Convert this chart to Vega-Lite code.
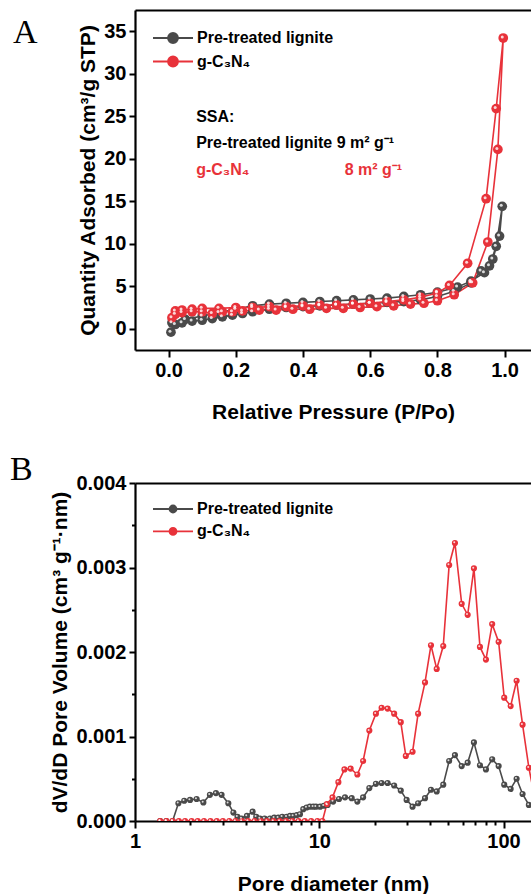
{
  "$schema": "https://vega.github.io/schema/vega-lite/v6.json",
  "background": "white",
  "padding": {"left": 10, "top": 10, "right": 0, "bottom": 0},
  "spacing": 31,
  "config": {
    "view": {"stroke": null},
    "font": "Liberation Sans",
    "axis": {
      "domainColor": "black", "domainWidth": 2.2, "tickColor": "black", "tickWidth": 2, "tickSize": 7,
      "labelFont": "Liberation Sans", "labelFontWeight": "bold", "labelFontSize": 20, "labelColor": "black",
      "titleFont": "Liberation Sans", "titleFontWeight": "bold", "titleFontSize": 21, "titleColor": "black",
      "grid": false, "labelPadding": 3, "labelFlush": false, "labelOverlap": false, "labelBound": false
    },
    "title": {"font": "Liberation Serif", "fontWeight": "normal", "fontSize": 34, "anchor": "start", "frame": "group", "color": "black", "offset": 0, "baseline": "alphabetic"},
    "legend": {
      "title": null, "orient": "none", "padding": 0,
      "labelFont": "Liberation Sans", "labelFontWeight": "bold", "labelFontSize": 16, "labelColor": "black",
      "symbolSize": 400, "symbolStrokeWidth": 1.8, "symbolOpacity": 1
    }
  },
  "datasets": {
    "iso": [
      {"sample": "Pre-treated lignite", "seq": 1, "p": 0.007, "q": -0.4},
      {"sample": "Pre-treated lignite", "seq": 2, "p": 0.02, "q": 0.5},
      {"sample": "Pre-treated lignite", "seq": 3, "p": 0.04, "q": 0.7},
      {"sample": "Pre-treated lignite", "seq": 4, "p": 0.07, "q": 0.9},
      {"sample": "Pre-treated lignite", "seq": 5, "p": 0.1, "q": 1.0},
      {"sample": "Pre-treated lignite", "seq": 6, "p": 0.13, "q": 1.2},
      {"sample": "Pre-treated lignite", "seq": 7, "p": 0.16, "q": 1.4},
      {"sample": "Pre-treated lignite", "seq": 8, "p": 0.19, "q": 1.6},
      {"sample": "Pre-treated lignite", "seq": 9, "p": 0.22, "q": 1.8},
      {"sample": "Pre-treated lignite", "seq": 10, "p": 0.25, "q": 2.0},
      {"sample": "Pre-treated lignite", "seq": 11, "p": 0.3, "q": 2.3},
      {"sample": "Pre-treated lignite", "seq": 12, "p": 0.35, "q": 2.5},
      {"sample": "Pre-treated lignite", "seq": 13, "p": 0.4, "q": 2.6},
      {"sample": "Pre-treated lignite", "seq": 14, "p": 0.45, "q": 2.7},
      {"sample": "Pre-treated lignite", "seq": 15, "p": 0.5, "q": 2.8},
      {"sample": "Pre-treated lignite", "seq": 16, "p": 0.55, "q": 2.9},
      {"sample": "Pre-treated lignite", "seq": 17, "p": 0.6, "q": 3.0},
      {"sample": "Pre-treated lignite", "seq": 18, "p": 0.65, "q": 3.1},
      {"sample": "Pre-treated lignite", "seq": 19, "p": 0.7, "q": 3.2},
      {"sample": "Pre-treated lignite", "seq": 20, "p": 0.75, "q": 3.4},
      {"sample": "Pre-treated lignite", "seq": 21, "p": 0.8, "q": 3.8},
      {"sample": "Pre-treated lignite", "seq": 22, "p": 0.85, "q": 4.4},
      {"sample": "Pre-treated lignite", "seq": 23, "p": 0.9, "q": 5.4},
      {"sample": "Pre-treated lignite", "seq": 24, "p": 0.93, "q": 6.8},
      {"sample": "Pre-treated lignite", "seq": 25, "p": 0.955, "q": 7.4},
      {"sample": "Pre-treated lignite", "seq": 26, "p": 0.975, "q": 9.7},
      {"sample": "Pre-treated lignite", "seq": 27, "p": 0.993, "q": 14.4},
      {"sample": "Pre-treated lignite", "seq": 28, "p": 0.985, "q": 10.9},
      {"sample": "Pre-treated lignite", "seq": 29, "p": 0.965, "q": 8.2},
      {"sample": "Pre-treated lignite", "seq": 30, "p": 0.94, "q": 6.6},
      {"sample": "Pre-treated lignite", "seq": 31, "p": 0.9, "q": 5.6},
      {"sample": "Pre-treated lignite", "seq": 32, "p": 0.86, "q": 4.9},
      {"sample": "Pre-treated lignite", "seq": 33, "p": 0.8, "q": 4.3},
      {"sample": "Pre-treated lignite", "seq": 34, "p": 0.75, "q": 4.0},
      {"sample": "Pre-treated lignite", "seq": 35, "p": 0.7, "q": 3.8},
      {"sample": "Pre-treated lignite", "seq": 36, "p": 0.65, "q": 3.6},
      {"sample": "Pre-treated lignite", "seq": 37, "p": 0.6, "q": 3.5},
      {"sample": "Pre-treated lignite", "seq": 38, "p": 0.55, "q": 3.4},
      {"sample": "Pre-treated lignite", "seq": 39, "p": 0.5, "q": 3.3},
      {"sample": "Pre-treated lignite", "seq": 40, "p": 0.45, "q": 3.2},
      {"sample": "Pre-treated lignite", "seq": 41, "p": 0.4, "q": 3.1},
      {"sample": "Pre-treated lignite", "seq": 42, "p": 0.35, "q": 3.0},
      {"sample": "Pre-treated lignite", "seq": 43, "p": 0.3, "q": 2.9},
      {"sample": "Pre-treated lignite", "seq": 44, "p": 0.25, "q": 2.7},
      {"sample": "Pre-treated lignite", "seq": 45, "p": 0.2, "q": 2.3},
      {"sample": "Pre-treated lignite", "seq": 46, "p": 0.15, "q": 1.9},
      {"sample": "Pre-treated lignite", "seq": 47, "p": 0.1, "q": 1.5},
      {"sample": "Pre-treated lignite", "seq": 48, "p": 0.05, "q": 1.1},
      {"sample": "Pre-treated lignite", "seq": 49, "p": 0.01, "q": 0.7},
      {"sample": "g-C₃N₄", "seq": 1, "p": 0.01, "q": 1.3},
      {"sample": "g-C₃N₄", "seq": 2, "p": 0.02, "q": 1.7},
      {"sample": "g-C₃N₄", "seq": 3, "p": 0.04, "q": 1.9},
      {"sample": "g-C₃N₄", "seq": 4, "p": 0.07, "q": 2.0},
      {"sample": "g-C₃N₄", "seq": 5, "p": 0.1, "q": 2.0},
      {"sample": "g-C₃N₄", "seq": 6, "p": 0.13, "q": 1.8},
      {"sample": "g-C₃N₄", "seq": 7, "p": 0.16, "q": 2.0},
      {"sample": "g-C₃N₄", "seq": 8, "p": 0.19, "q": 2.0},
      {"sample": "g-C₃N₄", "seq": 9, "p": 0.22, "q": 2.1},
      {"sample": "g-C₃N₄", "seq": 10, "p": 0.27, "q": 2.2},
      {"sample": "g-C₃N₄", "seq": 11, "p": 0.32, "q": 2.2},
      {"sample": "g-C₃N₄", "seq": 12, "p": 0.37, "q": 2.3},
      {"sample": "g-C₃N₄", "seq": 13, "p": 0.42, "q": 2.3},
      {"sample": "g-C₃N₄", "seq": 14, "p": 0.47, "q": 2.4},
      {"sample": "g-C₃N₄", "seq": 15, "p": 0.52, "q": 2.4},
      {"sample": "g-C₃N₄", "seq": 16, "p": 0.57, "q": 2.5},
      {"sample": "g-C₃N₄", "seq": 17, "p": 0.62, "q": 2.6},
      {"sample": "g-C₃N₄", "seq": 18, "p": 0.67, "q": 2.7},
      {"sample": "g-C₃N₄", "seq": 19, "p": 0.72, "q": 2.9},
      {"sample": "g-C₃N₄", "seq": 20, "p": 0.76, "q": 3.0},
      {"sample": "g-C₃N₄", "seq": 21, "p": 0.8, "q": 3.3},
      {"sample": "g-C₃N₄", "seq": 22, "p": 0.85, "q": 4.0},
      {"sample": "g-C₃N₄", "seq": 23, "p": 0.905, "q": 5.4},
      {"sample": "g-C₃N₄", "seq": 24, "p": 0.95, "q": 10.2},
      {"sample": "g-C₃N₄", "seq": 25, "p": 0.98, "q": 21.1},
      {"sample": "g-C₃N₄", "seq": 26, "p": 0.996, "q": 34.2},
      {"sample": "g-C₃N₄", "seq": 27, "p": 0.975, "q": 25.9},
      {"sample": "g-C₃N₄", "seq": 28, "p": 0.945, "q": 15.3},
      {"sample": "g-C₃N₄", "seq": 29, "p": 0.89, "q": 7.7},
      {"sample": "g-C₃N₄", "seq": 30, "p": 0.836, "q": 5.1},
      {"sample": "g-C₃N₄", "seq": 31, "p": 0.8, "q": 4.2},
      {"sample": "g-C₃N₄", "seq": 32, "p": 0.75, "q": 3.7},
      {"sample": "g-C₃N₄", "seq": 33, "p": 0.7, "q": 3.4},
      {"sample": "g-C₃N₄", "seq": 34, "p": 0.65, "q": 3.2},
      {"sample": "g-C₃N₄", "seq": 35, "p": 0.6, "q": 3.0},
      {"sample": "g-C₃N₄", "seq": 36, "p": 0.55, "q": 2.9},
      {"sample": "g-C₃N₄", "seq": 37, "p": 0.5, "q": 2.8},
      {"sample": "g-C₃N₄", "seq": 38, "p": 0.45, "q": 2.8},
      {"sample": "g-C₃N₄", "seq": 39, "p": 0.4, "q": 2.7},
      {"sample": "g-C₃N₄", "seq": 40, "p": 0.35, "q": 2.6},
      {"sample": "g-C₃N₄", "seq": 41, "p": 0.3, "q": 2.6},
      {"sample": "g-C₃N₄", "seq": 42, "p": 0.25, "q": 2.5},
      {"sample": "g-C₃N₄", "seq": 43, "p": 0.2, "q": 2.5},
      {"sample": "g-C₃N₄", "seq": 44, "p": 0.15, "q": 2.4},
      {"sample": "g-C₃N₄", "seq": 45, "p": 0.1, "q": 2.4},
      {"sample": "g-C₃N₄", "seq": 46, "p": 0.07, "q": 2.3},
      {"sample": "g-C₃N₄", "seq": 47, "p": 0.04, "q": 2.2},
      {"sample": "g-C₃N₄", "seq": 48, "p": 0.02, "q": 2.1}
    ],
    "pore": [
      {"sample": "Pre-treated lignite", "d": 1.37, "v": 0},
      {"sample": "Pre-treated lignite", "d": 1.48, "v": 0},
      {"sample": "Pre-treated lignite", "d": 1.6, "v": 0},
      {"sample": "Pre-treated lignite", "d": 1.72, "v": 0.00021},
      {"sample": "Pre-treated lignite", "d": 1.85, "v": 0.00024},
      {"sample": "Pre-treated lignite", "d": 1.99, "v": 0.00025},
      {"sample": "Pre-treated lignite", "d": 2.16, "v": 0.00026},
      {"sample": "Pre-treated lignite", "d": 2.35, "v": 0.00022},
      {"sample": "Pre-treated lignite", "d": 2.55, "v": 0.00031},
      {"sample": "Pre-treated lignite", "d": 2.75, "v": 0.00033},
      {"sample": "Pre-treated lignite", "d": 2.95, "v": 0.00031},
      {"sample": "Pre-treated lignite", "d": 3.21, "v": 0.00021},
      {"sample": "Pre-treated lignite", "d": 3.42, "v": 0.0001},
      {"sample": "Pre-treated lignite", "d": 3.6, "v": 0.00005},
      {"sample": "Pre-treated lignite", "d": 3.79, "v": 0.00003},
      {"sample": "Pre-treated lignite", "d": 4.05, "v": 0.00006},
      {"sample": "Pre-treated lignite", "d": 4.35, "v": 0.00011},
      {"sample": "Pre-treated lignite", "d": 4.55, "v": 0.00005},
      {"sample": "Pre-treated lignite", "d": 4.77, "v": 0.00003},
      {"sample": "Pre-treated lignite", "d": 5.05, "v": 0.00003},
      {"sample": "Pre-treated lignite", "d": 5.4, "v": 0.00003},
      {"sample": "Pre-treated lignite", "d": 5.7, "v": 0.00004},
      {"sample": "Pre-treated lignite", "d": 5.99, "v": 0.00004},
      {"sample": "Pre-treated lignite", "d": 6.3, "v": 0.00005},
      {"sample": "Pre-treated lignite", "d": 6.66, "v": 0.00005},
      {"sample": "Pre-treated lignite", "d": 6.95, "v": 0.00006},
      {"sample": "Pre-treated lignite", "d": 7.23, "v": 0.00006},
      {"sample": "Pre-treated lignite", "d": 7.55, "v": 0.00007},
      {"sample": "Pre-treated lignite", "d": 7.86, "v": 0.00008},
      {"sample": "Pre-treated lignite", "d": 8.19, "v": 0.00014},
      {"sample": "Pre-treated lignite", "d": 8.54, "v": 0.00016},
      {"sample": "Pre-treated lignite", "d": 8.9, "v": 0.00017},
      {"sample": "Pre-treated lignite", "d": 9.28, "v": 0.00017},
      {"sample": "Pre-treated lignite", "d": 9.6, "v": 0.00017},
      {"sample": "Pre-treated lignite", "d": 10.1, "v": 0.00017},
      {"sample": "Pre-treated lignite", "d": 10.6, "v": 0.00018},
      {"sample": "Pre-treated lignite", "d": 11.1, "v": 0.00019},
      {"sample": "Pre-treated lignite", "d": 11.9, "v": 0.00023},
      {"sample": "Pre-treated lignite", "d": 12.8, "v": 0.00026},
      {"sample": "Pre-treated lignite", "d": 13.8, "v": 0.00028},
      {"sample": "Pre-treated lignite", "d": 15.0, "v": 0.00027},
      {"sample": "Pre-treated lignite", "d": 16.1, "v": 0.00023},
      {"sample": "Pre-treated lignite", "d": 17.3, "v": 0.00028},
      {"sample": "Pre-treated lignite", "d": 18.7, "v": 0.00039},
      {"sample": "Pre-treated lignite", "d": 20.3, "v": 0.00044},
      {"sample": "Pre-treated lignite", "d": 21.8, "v": 0.00045},
      {"sample": "Pre-treated lignite", "d": 23.5, "v": 0.00045},
      {"sample": "Pre-treated lignite", "d": 25.5, "v": 0.00042},
      {"sample": "Pre-treated lignite", "d": 27.7, "v": 0.00036},
      {"sample": "Pre-treated lignite", "d": 29.8, "v": 0.00025},
      {"sample": "Pre-treated lignite", "d": 32.1, "v": 0.00017},
      {"sample": "Pre-treated lignite", "d": 34.4, "v": 0.00021},
      {"sample": "Pre-treated lignite", "d": 37.5, "v": 0.00027},
      {"sample": "Pre-treated lignite", "d": 40.4, "v": 0.00037},
      {"sample": "Pre-treated lignite", "d": 43.4, "v": 0.00035},
      {"sample": "Pre-treated lignite", "d": 47.1, "v": 0.00043},
      {"sample": "Pre-treated lignite", "d": 50.7, "v": 0.00071},
      {"sample": "Pre-treated lignite", "d": 54.5, "v": 0.00078},
      {"sample": "Pre-treated lignite", "d": 59.3, "v": 0.00065},
      {"sample": "Pre-treated lignite", "d": 63.9, "v": 0.00069},
      {"sample": "Pre-treated lignite", "d": 69.1, "v": 0.00093},
      {"sample": "Pre-treated lignite", "d": 74.5, "v": 0.00066},
      {"sample": "Pre-treated lignite", "d": 80.3, "v": 0.00061},
      {"sample": "Pre-treated lignite", "d": 86.8, "v": 0.00073},
      {"sample": "Pre-treated lignite", "d": 94.1, "v": 0.00065},
      {"sample": "Pre-treated lignite", "d": 100.9, "v": 0.00043},
      {"sample": "Pre-treated lignite", "d": 109.3, "v": 0.00038},
      {"sample": "Pre-treated lignite", "d": 117.8, "v": 0.0005},
      {"sample": "Pre-treated lignite", "d": 126.9, "v": 0.00032},
      {"sample": "Pre-treated lignite", "d": 137.3, "v": 0.00019},
      {"sample": "Pre-treated lignite", "d": 147, "v": 0.00015},
      {"sample": "g-C₃N₄", "d": 1.37, "v": 0},
      {"sample": "g-C₃N₄", "d": 1.48, "v": 0},
      {"sample": "g-C₃N₄", "d": 1.6, "v": 0},
      {"sample": "g-C₃N₄", "d": 1.73, "v": 0},
      {"sample": "g-C₃N₄", "d": 1.87, "v": 0},
      {"sample": "g-C₃N₄", "d": 2.03, "v": 0},
      {"sample": "g-C₃N₄", "d": 2.19, "v": 0},
      {"sample": "g-C₃N₄", "d": 2.37, "v": 0},
      {"sample": "g-C₃N₄", "d": 2.57, "v": 0},
      {"sample": "g-C₃N₄", "d": 2.78, "v": 0},
      {"sample": "g-C₃N₄", "d": 3.0, "v": 0},
      {"sample": "g-C₃N₄", "d": 3.25, "v": 0},
      {"sample": "g-C₃N₄", "d": 3.51, "v": 0},
      {"sample": "g-C₃N₄", "d": 3.8, "v": 0},
      {"sample": "g-C₃N₄", "d": 4.11, "v": 0},
      {"sample": "g-C₃N₄", "d": 4.45, "v": 0},
      {"sample": "g-C₃N₄", "d": 4.82, "v": 0},
      {"sample": "g-C₃N₄", "d": 5.21, "v": 0},
      {"sample": "g-C₃N₄", "d": 5.64, "v": 0},
      {"sample": "g-C₃N₄", "d": 6.1, "v": 0},
      {"sample": "g-C₃N₄", "d": 6.6, "v": 0},
      {"sample": "g-C₃N₄", "d": 7.14, "v": 0},
      {"sample": "g-C₃N₄", "d": 7.72, "v": 0},
      {"sample": "g-C₃N₄", "d": 8.35, "v": 0},
      {"sample": "g-C₃N₄", "d": 9.04, "v": 0},
      {"sample": "g-C₃N₄", "d": 9.78, "v": 0},
      {"sample": "g-C₃N₄", "d": 10.4, "v": 0},
      {"sample": "g-C₃N₄", "d": 11.0, "v": 0.0002},
      {"sample": "g-C₃N₄", "d": 11.8, "v": 0.00028},
      {"sample": "g-C₃N₄", "d": 12.7, "v": 0.00046},
      {"sample": "g-C₃N₄", "d": 13.7, "v": 0.00061},
      {"sample": "g-C₃N₄", "d": 14.8, "v": 0.00062},
      {"sample": "g-C₃N₄", "d": 16.1, "v": 0.00055},
      {"sample": "g-C₃N₄", "d": 17.3, "v": 0.00071},
      {"sample": "g-C₃N₄", "d": 18.7, "v": 0.00107},
      {"sample": "g-C₃N₄", "d": 20.3, "v": 0.00127},
      {"sample": "g-C₃N₄", "d": 21.8, "v": 0.00134},
      {"sample": "g-C₃N₄", "d": 23.5, "v": 0.00133},
      {"sample": "g-C₃N₄", "d": 25.5, "v": 0.00127},
      {"sample": "g-C₃N₄", "d": 27.7, "v": 0.00117},
      {"sample": "g-C₃N₄", "d": 29.5, "v": 0.00077},
      {"sample": "g-C₃N₄", "d": 32.1, "v": 0.00082},
      {"sample": "g-C₃N₄", "d": 34.4, "v": 0.00127},
      {"sample": "g-C₃N₄", "d": 37.5, "v": 0.00164},
      {"sample": "g-C₃N₄", "d": 40.4, "v": 0.00208},
      {"sample": "g-C₃N₄", "d": 43.4, "v": 0.0018},
      {"sample": "g-C₃N₄", "d": 47.1, "v": 0.00207},
      {"sample": "g-C₃N₄", "d": 50.7, "v": 0.00303},
      {"sample": "g-C₃N₄", "d": 54.5, "v": 0.00329},
      {"sample": "g-C₃N₄", "d": 59.3, "v": 0.00257},
      {"sample": "g-C₃N₄", "d": 63.9, "v": 0.00244},
      {"sample": "g-C₃N₄", "d": 69.1, "v": 0.00299},
      {"sample": "g-C₃N₄", "d": 74.5, "v": 0.00206},
      {"sample": "g-C₃N₄", "d": 80.3, "v": 0.00191},
      {"sample": "g-C₃N₄", "d": 86.8, "v": 0.00233},
      {"sample": "g-C₃N₄", "d": 94.1, "v": 0.00212},
      {"sample": "g-C₃N₄", "d": 100.9, "v": 0.00146},
      {"sample": "g-C₃N₄", "d": 109.3, "v": 0.00136},
      {"sample": "g-C₃N₄", "d": 117.8, "v": 0.00166},
      {"sample": "g-C₃N₄", "d": 126.9, "v": 0.00114},
      {"sample": "g-C₃N₄", "d": 137.3, "v": 0.00063},
      {"sample": "g-C₃N₄", "d": 147, "v": 0.0003}
    ]
  },
  "resolve": {"scale": {"color": "independent"}, "legend": {"color": "independent"}},
  "vconcat": [
    {
      "width": 396, "height": 340,
      "title": {"text": "A", "dx": -122, "dy": 44},
      "resolve": {"axis": {"x": "independent", "y": "independent"}},
      "layer": [
        {
          "data": {"name": "iso"},
          "mark": {"type": "line", "strokeWidth": 1.6, "clip": true},
          "encoding": {
            "x": {"field": "p", "type": "quantitative", "scale": {"domain": [-0.1, 1.0786], "nice": false, "zero": false},
                  "axis": {"values": [0, 0.2, 0.4, 0.6, 0.8, 1.0], "format": ".1f", "title": "Relative Pressure (P/Po)", "titlePadding": 21}},
            "y": {"field": "q", "type": "quantitative", "scale": {"domain": [-2.5, 37.5], "nice": false, "zero": false},
                  "axis": {"orient": "left", "values": [0, 5, 10, 15, 20, 25, 30, 35], "format": "d", "title": "Quantity Adsorbed (cm³/g STP)", "tickSize": 6, "titlePadding": 5}},
            "color": {"field": "sample", "type": "nominal",
                      "scale": {"domain": ["Pre-treated lignite", "g-C₃N₄"], "range": ["#4a4a4a", "#e8323a"]},
                      "legend": {"legendX": 27, "legendY": 17, "rowPadding": 3.5, "labelOffset": 13,
                                 "symbolType": "M-2,0L-0.5,0M0.5,0L2,0M-0.5,0A0.5,0.5,0,1,1,0.5,0A0.5,0.5,0,1,1,-0.5,0Z"}},
            "order": {"field": "seq", "type": "quantitative"}
          }
        },
        {
          "data": {"name": "iso"},
          "mark": {"type": "point", "filled": true, "size": 95, "opacity": 1, "clip": true},
          "encoding": {
            "x": {"field": "p", "type": "quantitative", "scale": {"domain": [-0.1, 1.0786], "nice": false, "zero": false}, "axis": null},
            "y": {"field": "q", "type": "quantitative", "scale": {"domain": [-2.5, 37.5], "nice": false, "zero": false}, "axis": null},
            "color": {"field": "sample", "type": "nominal",
                      "scale": {"domain": ["Pre-treated lignite", "g-C₃N₄"], "range": ["#4a4a4a", "#e8323a"]},
                      "legend": {"legendX": 27, "legendY": 17, "rowPadding": 3.5, "labelOffset": 13,
                                 "symbolType": "M-2,0L-0.5,0M0.5,0L2,0M-0.5,0A0.5,0.5,0,1,1,0.5,0A0.5,0.5,0,1,1,-0.5,0Z"}}
          }
        },
        {
          "data": {"name": "iso"},
          "mark": {"type": "point", "filled": true, "size": 9, "opacity": 0.8, "color": "white", "xOffset": -1, "yOffset": -1, "clip": true},
          "encoding": {
            "x": {"field": "p", "type": "quantitative", "scale": {"domain": [-0.1, 1.0786], "nice": false, "zero": false}, "axis": null},
            "y": {"field": "q", "type": "quantitative", "scale": {"domain": [-2.5, 37.5], "nice": false, "zero": false}, "axis": null}
          }
        },
        {
          "data": {"values": [{"t": "SSA:"}]},
          "mark": {"type": "text", "align": "left", "baseline": "middle", "font": "Liberation Sans", "fontWeight": "bold", "fontSize": 16, "color": "black"},
          "encoding": {
            "x": {"datum": 0.082, "type": "quantitative", "axis": null},
            "y": {"datum": 24.9, "type": "quantitative", "axis": null},
            "text": {"field": "t"}
          }
        },
        {
          "data": {"values": [{"t": "Pre-treated lignite 9 m² g⁻¹"}]},
          "mark": {"type": "text", "align": "left", "baseline": "middle", "font": "Liberation Sans", "fontWeight": "bold", "fontSize": 16, "color": "black"},
          "encoding": {
            "x": {"datum": 0.082, "type": "quantitative", "axis": null},
            "y": {"datum": 21.9, "type": "quantitative", "axis": null},
            "text": {"field": "t"}
          }
        },
        {
          "data": {"values": [{"t": "g-C₃N₄"}]},
          "mark": {"type": "text", "align": "left", "baseline": "middle", "font": "Liberation Sans", "fontWeight": "bold", "fontSize": 16, "color": "#e8323a"},
          "encoding": {
            "x": {"datum": 0.082, "type": "quantitative", "axis": null},
            "y": {"datum": 18.7, "type": "quantitative", "axis": null},
            "text": {"field": "t"}
          }
        },
        {
          "data": {"values": [{"t": "8 m² g⁻¹"}]},
          "mark": {"type": "text", "align": "left", "baseline": "middle", "font": "Liberation Sans", "fontWeight": "bold", "fontSize": 16, "color": "#e8323a"},
          "encoding": {
            "x": {"datum": 0.524, "type": "quantitative", "axis": {"orient": "top", "labels": false, "ticks": false, "title": null, "domain": true}},
            "y": {"datum": 18.7, "type": "quantitative", "axis": null},
            "text": {"field": "t"}
          }
        }
      ]
    },
    {
      "width": 396, "height": 338,
      "title": {"text": "B", "dx": -125, "dy": 18},
      "resolve": {"axis": {"x": "independent", "y": "independent"}},
      "layer": [
        {
          "data": {"name": "pore"},
          "mark": {"type": "line", "strokeWidth": 1.6, "clip": true},
          "encoding": {
            "x": {"field": "d", "type": "quantitative", "scale": {"type": "log", "domain": [1, 141], "nice": false},
                  "axis": {"values": [1, 2, 3, 4, 5, 6, 7, 8, 9, 10, 20, 30, 40, 50, 60, 70, 80, 90, 100],
                           "format": "d", "labelExpr": "(datum.value == 1 || datum.value == 10 || datum.value == 100) ? datum.label : ''",
                           "tickSize": {"condition": {"test": "datum.value == 1 || datum.value == 10 || datum.value == 100", "value": 7}, "value": 4},
                           "title": "Pore diameter (nm)", "titlePadding": 22}},
            "y": {"field": "v", "type": "quantitative", "scale": {"domain": [0, 0.004], "nice": false},
                  "axis": {"orient": "left", "values": [0, 0.0005, 0.001, 0.0015, 0.002, 0.0025, 0.003, 0.0035, 0.004],
                           "format": ".3f", "labelExpr": "round(datum.value * 10000) % 10 == 0 ? datum.label : ''",
                           "tickSize": {"condition": {"test": "round(datum.value * 10000) % 10 == 0", "value": 6}, "value": 3.5},
                           "title": "dV/dD Pore Volume (cm³ g⁻¹·nm)", "titlePadding": 5}},
            "color": {"field": "sample", "type": "nominal",
                      "scale": {"domain": ["Pre-treated lignite", "g-C₃N₄"], "range": ["#4a4a4a", "#e8323a"]},
                      "legend": {"legendX": 27, "legendY": 15, "rowPadding": 3.4, "labelOffset": 13,
                                 "symbolType": "M-2,0L-0.35,0M0.35,0L2,0M-0.35,0A0.35,0.35,0,1,1,0.35,0A0.35,0.35,0,1,1,-0.35,0Z"}}
          }
        },
        {
          "data": {"name": "pore"},
          "mark": {"type": "point", "filled": true, "size": 38, "opacity": 1, "clip": true},
          "encoding": {
            "x": {"field": "d", "type": "quantitative", "scale": {"type": "log", "domain": [1, 141], "nice": false}, "axis": null},
            "y": {"field": "v", "type": "quantitative", "scale": {"domain": [0, 0.004], "nice": false}, "axis": null},
            "color": {"field": "sample", "type": "nominal",
                      "scale": {"domain": ["Pre-treated lignite", "g-C₃N₄"], "range": ["#4a4a4a", "#e8323a"]},
                      "legend": {"legendX": 27, "legendY": 15, "rowPadding": 3.4, "labelOffset": 13,
                                 "symbolType": "M-2,0L-0.35,0M0.35,0L2,0M-0.35,0A0.35,0.35,0,1,1,0.35,0A0.35,0.35,0,1,1,-0.35,0Z"}}
          }
        },
        {
          "data": {"name": "pore"},
          "mark": {"type": "point", "filled": true, "size": 4, "opacity": 0.8, "color": "white", "xOffset": -0.7, "yOffset": -0.7, "clip": true},
          "encoding": {
            "x": {"field": "d", "type": "quantitative", "scale": {"type": "log", "domain": [1, 141], "nice": false}, "axis": null},
            "y": {"field": "v", "type": "quantitative", "scale": {"domain": [0, 0.004], "nice": false}, "axis": null}
          }
        },
        {
          "data": {"values": [{"t": ""}]},
          "mark": {"type": "text"},
          "encoding": {
            "x": {"datum": 10, "type": "quantitative", "scale": {"type": "log", "domain": [1, 141], "nice": false},
                  "axis": {"orient": "top", "labels": false, "ticks": false, "title": null, "domain": true}},
            "text": {"field": "t"}
          }
        }
      ]
    }
  ]
}
